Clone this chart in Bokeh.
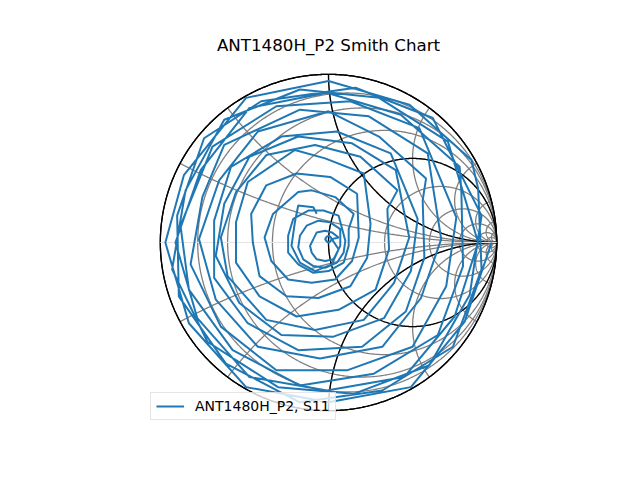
import numpy as np
from bokeh.plotting import figure
from bokeh.models import Range1d, Legend, LegendItem
from bokeh.core.properties import value
from bokeh.embed import file_html
from bokeh.resources import INLINE

s11_re = [
    0.97, 0.81, 0.49, 0.00, -0.49, -0.83, -0.97, -0.86, -0.49, 0.00, 0.48, 0.85,
    0.89, 0.91, 0.74, 0.32, -0.17, -0.61, -0.89, -0.90, -0.74, -0.40, 0.16, 0.62,
    0.91, 0.84, 0.60, 0.15, -0.30, -0.72, -0.93, -0.85, -0.62, -0.17, 0.30, 0.71,
    0.89, 0.75, 0.45, -0.01, -0.47, -0.78, -0.91, -0.76, -0.47, -0.01, 0.43, 0.78,
    0.79, 0.80, 0.65, 0.27, -0.17, -0.57, -0.83, -0.88, -0.69, -0.31, 0.13, 0.54,
    0.76, 0.70, 0.50, 0.11, -0.31, -0.64, -0.82, -0.75, -0.62, -0.17, 0.24, 0.59,
    0.67, 0.55, 0.32, -0.05, -0.42, -0.67, -0.77, -0.65, -0.42, 0.00, 0.30, 0.58,
    0.56, 0.57, 0.46, 0.20, -0.18, -0.48, -0.68, -0.68, -0.58, -0.28, 0.05, 0.37,
    0.53, 0.49, 0.33, 0.03, -0.28, -0.53, -0.67, -0.62, -0.47, -0.18, 0.14, 0.40,
    0.48, 0.39, 0.21, -0.08, -0.37, -0.60, -0.64, -0.55, -0.37, -0.08, 0.19, 0.41,
    0.35, 0.36, 0.28, 0.06, -0.19, -0.41, -0.55, -0.55, -0.48, -0.20, -0.02, 0.21,
    0.25, 0.23, 0.13, -0.06, -0.25, -0.41, -0.45, -0.46, -0.37, -0.19, 0.01, 0.17,
    0.18, 0.14, 0.04, -0.10, -0.24, -0.34, -0.38, -0.33, -0.18, -0.10, 0.04, 0.15,
    0.12, 0.12, 0.09, 0.00, -0.09, -0.18, -0.24, -0.24, -0.21, -0.12, -0.03, 0.06,
    0.10, 0.09, 0.05, -0.02, -0.09, -0.15, -0.18, -0.17, -0.13, -0.06, 0.01, 0.07,
    0.07, 0.05, 0.03, -0.02, -0.07, -0.10, -0.11, -0.09, -0.07, -0.02, 0.02, 0.06,
    0.02, 0.01, 0.00, -0.01, -0.02, -0.01, 0.00, 0.01, 0.02,
    0.06, 0.02, -0.08, -0.17, -0.22, -0.20, -0.18, -0.09, -0.07,
]
s11_im = [
    0.00, -0.47, -0.86, -0.95, -0.86, -0.48, 0.00, 0.40, 0.86, 0.96, 0.82, 0.49,
    0.32, -0.16, -0.62, -0.88, -0.95, -0.72, -0.32, 0.16, 0.62, 0.84, 0.92, 0.74,
    0.16, -0.31, -0.73, -0.90, -0.86, -0.59, -0.16, 0.31, 0.73, 0.91, 0.86, 0.60,
    0.00, -0.44, -0.80, -0.88, -0.80, -0.45, 0.00, 0.43, 0.80, 0.89, 0.76, 0.45,
    0.30, -0.14, -0.55, -0.78, -0.85, -0.64, -0.28, 0.10, 0.57, 0.81, 0.84, 0.68,
    0.15, -0.26, -0.62, -0.76, -0.76, -0.50, -0.13, 0.27, 0.58, 0.79, 0.75, 0.53,
    0.02, -0.33, -0.62, -0.69, -0.62, -0.34, 0.02, 0.37, 0.66, 0.78, 0.63, 0.38,
    0.25, -0.09, -0.41, -0.62, -0.64, -0.48, -0.21, 0.13, 0.45, 0.63, 0.66, 0.53,
    0.14, -0.17, -0.45, -0.56, -0.55, -0.36, -0.08, 0.23, 0.51, 0.63, 0.59, 0.43,
    0.03, -0.24, -0.46, -0.52, -0.46, -0.20, 0.03, 0.30, 0.52, 0.58, 0.51, 0.31,
    0.20, -0.04, -0.28, -0.40, -0.44, -0.32, -0.12, 0.12, 0.36, 0.55, 0.50, 0.41,
    0.11, -0.09, -0.26, -0.33, -0.32, -0.20, 0.00, 0.17, 0.34, 0.41, 0.39, 0.29,
    0.03, -0.11, -0.22, -0.24, -0.22, -0.11, 0.03, 0.17, 0.30, 0.31, 0.27, 0.17,
    0.08, -0.02, -0.12, -0.17, -0.18, -0.13, -0.06, 0.04, 0.14, 0.19, 0.19, 0.16,
    0.01, -0.06, -0.12, -0.15, -0.14, -0.10, -0.03, 0.04, 0.10, 0.13, 0.12, 0.08,
    -0.02, -0.06, -0.10, -0.11, -0.10, -0.06, -0.02, 0.02, 0.06, 0.07, 0.06, 0.03,
    0.02, 0.005, 0.00, 0.005, 0.02, 0.035, 0.04, 0.035, 0.02,
    -0.04, -0.13, -0.17, -0.12, -0.02, 0.12, 0.22, 0.21, 0.17,
]

# Smith chart grid values
r_light = [0.125, 0.25, 0.5, 1, 2, 4, 8, 16, 32]
x_light = [0.25, 0.5, 1, 2, 4, 8, 16, 32, -0.25, -0.5, -1, -2, -4, -8, -16, -32]
r_heavy = [0, 1]
x_heavy = [1, -1]

title_text = "ANT1480H_P2 Smith Chart"
legend_text = "ANT1480H_P2, S11"

# frame covers the whole canvas; unit circle centred at (328, 242) px, radius 168 px
SCALE = 168.18
CX, CY = 328.0, 242.0
p = figure(width=640, height=480, output_backend="svg", toolbar_location=None,
           x_range=Range1d(-CX / SCALE, (640 - CX) / SCALE),
           y_range=Range1d(-(480 - CY) / SCALE, CY / SCALE),
           min_border=0)
p.xaxis.visible = False
p.yaxis.visible = False
p.grid.visible = False
p.outline_line_color = None
p.background_fill_color = "white"
p.border_fill_color = "white"

phi = np.linspace(0, 2 * np.pi, 721)


def r_circle(r):
    c = r / (1.0 + r)
    rad = 1.0 / (1.0 + r)
    return c + rad * np.cos(phi), rad * np.sin(phi)


def x_arc(x):
    rr = np.concatenate([[0.0], np.logspace(-3, 4, 900)])
    z = rr + 1j * x
    g = (z - 1) / (z + 1)
    return g.real, g.imag


GREY = "#808080"
for r in r_light:
    xs, ys = r_circle(r)
    p.line(xs, ys, line_color=GREY, line_width=1.3)
for x in x_light:
    xs, ys = x_arc(x)
    p.line(xs, ys, line_color=GREY, line_width=1.3)
for r in r_heavy:
    xs, ys = r_circle(r)
    p.line(xs, ys, line_color="black", line_width=1.3)
for x in x_heavy:
    xs, ys = x_arc(x)
    p.line(xs, ys, line_color="black", line_width=1.3)
# outer clip circle and real axis
p.line(np.cos(phi), np.sin(phi), line_color="black", line_width=1.3)
p.line([-1, 1], [0, 0], line_color="#e3e3e3", line_width=1)

trace = p.line(s11_re, s11_im, line_color="#1f77b4", line_width=2)

# title (as text inside the full-canvas frame)
p.text(x=[0.0], y=[(CY - 44) / SCALE], text=[title_text], text_align="center",
       text_baseline="middle", text_font=value("DejaVu Sans"),
       text_font_size="16.7px", text_color="black")

legend = Legend(items=[LegendItem(label=legend_text, renderers=[trace])],
                location=(150, 60))
legend.margin = 0
legend.padding = 5
legend.glyph_width = 28
legend.glyph_height = 14
legend.label_height = 14
legend.label_standoff = 11
legend.label_text_font = "DejaVu Sans"
legend.label_text_font_size = "14px"
legend.label_text_color = "black"
legend.border_line_color = "#cccccc"
legend.border_line_width = 1
legend.background_fill_alpha = 0.8
p.add_layout(legend)

open("out.html", "w").write(file_html(p, INLINE))
